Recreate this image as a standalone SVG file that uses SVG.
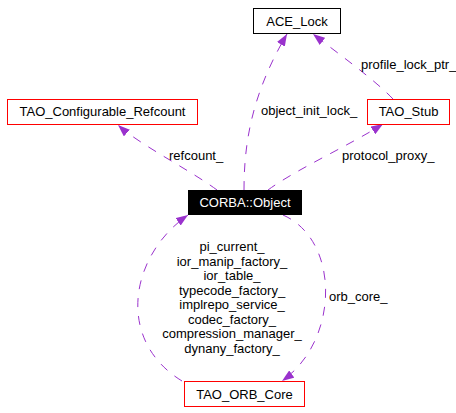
<svg xmlns="http://www.w3.org/2000/svg" width="456" height="413" viewBox="0 0 456 413">
<style>
  .box { fill: #ffffff; stroke: #ff0000; stroke-width: 1; }
  .plain { fill: #ffffff; stroke: #000000; stroke-width: 1; }
  .main { fill: #000000; stroke: #000000; stroke-width: 1; }
  text { font-family: "Liberation Sans", Arial, sans-serif; font-size: 13px; fill: #000000; }
  .nlabel { text-anchor: middle; }
  .white { fill: #ffffff; }
  .edge { fill: none; stroke: #9a32cd; stroke-width: 1; stroke-dasharray: 9,9; marker-end: url(#arrow); }
  .elabel { text-anchor: middle; }
</style>
<defs>
  <marker id="arrow" viewBox="0 0 12 9" refX="12" refY="4.5" markerWidth="12" markerHeight="9" markerUnits="userSpaceOnUse" orient="auto">
    <path d="M0,0 L12,4.5 L0,9 z" fill="#9a32cd" stroke="none"/>
  </marker>
</defs>
<rect width="456" height="413" fill="#ffffff"/>
<g id="edges">
  <path class="edge" d="M244,190 C244,145 251,95 287,34"/>
  <path class="edge" d="M393,99 C375,80 340,55 313,34"/>
  <path class="edge" d="M217,190 C190,170 140,145 118,125"/>
  <path class="edge" d="M268,190 C295,170 350,145 383,124"/>
  <path class="edge" d="M182,381 C115,340 130,255 188,215"/>
  <path class="edge" d="M283,215 C340,240 340,340 282,381"/>
  <text x="261" y="115">object_init_lock_</text>
  <text x="361" y="69">profile_lock_ptr_</text>
  <text x="169" y="160">refcount_</text>
  <text x="342" y="160">protocol_proxy_</text>
  <text class="elabel" x="232" y="251">pi_current_</text>
  <text class="elabel" x="232" y="265.5">ior_manip_factory_</text>
  <text class="elabel" x="232" y="280">ior_table_</text>
  <text class="elabel" x="232" y="294.5">typecode_factory_</text>
  <text class="elabel" x="232" y="309">implrepo_service_</text>
  <text class="elabel" x="232" y="323.5">codec_factory_</text>
  <text class="elabel" x="232" y="338">compression_manager_</text>
  <text class="elabel" x="232" y="352.5">dynany_factory_</text>
  <text x="329" y="301">orb_core_</text>
</g>
<g id="node-ace-lock">
  <rect class="plain" x="253.5" y="8.5" width="87" height="25"/>
  <text class="nlabel" x="297" y="25.5">ACE_Lock</text>
</g>
<g id="node-tao-configurable-refcount">
  <rect class="box" x="7.5" y="99.5" width="190" height="25"/>
  <text class="nlabel" x="102.5" y="116">TAO_Configurable_Refcount</text>
</g>
<g id="node-tao-stub">
  <rect class="box" x="367.5" y="99.5" width="82" height="25"/>
  <text class="nlabel" x="408.5" y="116">TAO_Stub</text>
</g>
<g id="node-corba-object">
  <rect class="main" x="188.5" y="190.5" width="113" height="24"/>
  <text class="nlabel white" x="245" y="207">CORBA::Object</text>
</g>
<g id="node-tao-orb-core">
  <rect class="box" x="184.5" y="381.5" width="120" height="25"/>
  <text class="nlabel" x="244.5" y="398.5">TAO_ORB_Core</text>
</g>
</svg>
